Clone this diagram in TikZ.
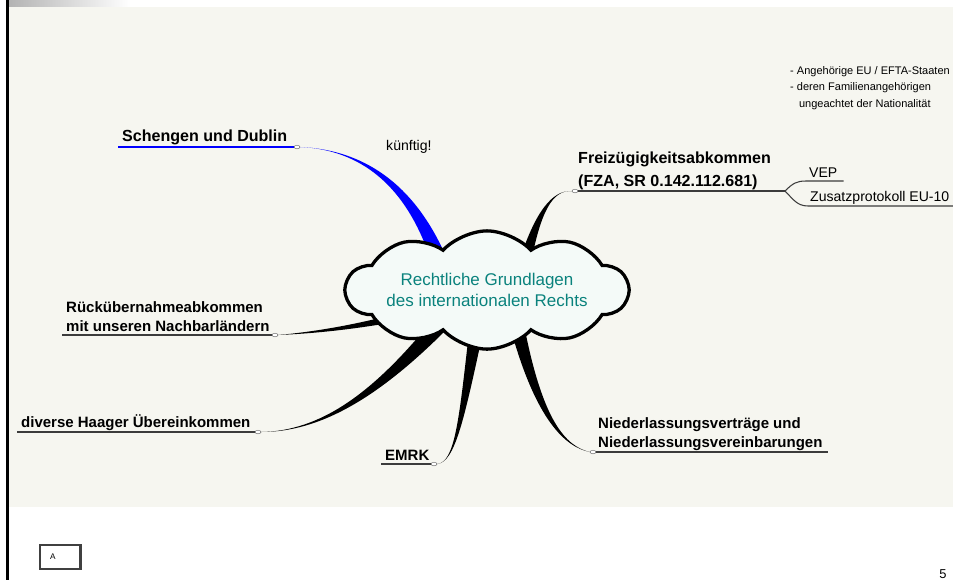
\documentclass[tikz,border=0pt]{standalone}
\usepackage{fontspec}
\setmainfont{Liberation Sans}
\usepackage{xcolor}
\usetikzlibrary{positioning,calc,shapes.symbols,shapes.geometric}

\definecolor{paper}{RGB}{246,246,240}
\definecolor{cloudfill}{RGB}{244,250,248}
\definecolor{coretext}{RGB}{10,130,125}
\definecolor{ulgray}{RGB}{60,60,60}

\begin{document}
\begin{tikzpicture}[
  x=0.03cm, y=-0.03cm,
  topic/.style={font=\bfseries\fontsize{13.7}{19.6}\selectfont, anchor=base west, inner sep=0pt, align=left},
  branch/.style={font=\bfseries\fontsize{12.8}{16.2}\selectfont, anchor=base west, inner sep=0pt, align=left},
  leaf/.style={font=\fontsize{12}{14}\selectfont, anchor=base west, inner sep=0pt},
  note/.style={font=\fontsize{9.4}{14}\selectfont, anchor=base west, inner sep=0pt, align=left},
  knob/.style={ellipse, draw=gray, fill=white, line width=0.5pt, inner sep=0pt, minimum width=5pt, minimum height=3pt},
  uline/.style={draw=ulgray, line width=0.9pt},
  core/.style={cloud, cloud puffs=10, cloud puff arc=95, aspect=3.4, draw, line width=2.8pt, fill=cloudfill,
    minimum width=7.5cm, minimum height=1.8cm, inner sep=0pt, text=coretext, font=\fontsize{14.5}{17.9}\selectfont, align=center}
]

% page
\useasboundingbox (0,0) rectangle (953,580);
\fill[white] (0,0) rectangle (953,580);
\shade[left color=black!30, right color=white] (8,0) rectangle (130,7);
\fill[paper] (8,7) rectangle (953,507);
\draw[line width=2.6pt] (7.5,0) -- (7.5,580);

% branch labels (multi-line ones sit on their last line)
\node[topic] (schengen) at (122,141) {Schengen und Dublin};
\node[leaf] (kuenftig) at (386,150) {künftig!};
\node[topic] (fza) at (578,186) {Freizügigkeitsabkommen\\(FZA, SR 0.142.112.681)};
\node[leaf] (vep) at (809,177) {VEP};
\node[leaf] (zusatz) at (810,201) {Zusatzprotokoll EU-10};
\node[note] (fzanote) at (790,107) {- Angehörige EU / EFTA-Staaten\\- deren Familienangehörigen\\\hspace*{7.5pt}ungeachtet der Nationalität};
\node[branch] (rueck) at (66,331) {Rückübernahmeabkommen\\mit unseren Nachbarländern};
\node[branch] (haager) at (21,427) {diverse Haager Übereinkommen};
\node[branch] (emrk) at (385,460) {EMRK};
\node[branch] (nieder) at (598,447) {Niederlassungsverträge und\\Niederlassungsvereinbarungen};

% knobs where the branches start
\node[knob] (sd) at (297,147) {};
\node[knob] (fz) at (575,191) {};
\node[knob] (rk) at (275,335) {};
\node[knob] (hg) at (258,432) {};
\node[knob] (em) at (434,464) {};
\node[knob] (nl) at (593,452) {};
\coordinate (fzsplit) at (785,191);

% ends inside the cloud
\coordinate (core-sd) at (436,252);
\coordinate (core-fz) at (525,262);
\coordinate (core-rk) at (386,320);
\coordinate (core-hg) at (440,324);
\coordinate (core-em) at (476,332);
\coordinate (core-nl) at (518,330);

% underlines
\draw[blue, line width=1.3pt] ($(schengen.base west)+(-4,6)$) -- (sd.west);
\draw[uline] (fz.east) -- (fzsplit);
\draw[uline] (fzsplit) .. controls (793,183) and (797,181) .. ($(vep.base west)+(-3,4)$) -- ($(vep.base east)+(6,4)$);
\draw[uline] (fzsplit) .. controls (793,199) and (797,206) .. ($(zusatz.base west)+(-2,5)$) -- (953,206);
\draw[uline] ($(rueck.base west)+(-4,4)$) -- (rk.west);
\draw[uline] ($(haager.base west)+(-4,5)$) -- (hg.west);
\draw[uline] ($(emrk.base west)+(-4,4)$) -- (em.west);
\draw[uline] (nl.east) -- ($(nieder.base east)+(5,5)$);

% tapered branches
\fill[blue] (sd.east) .. controls (345,149) and (405,167) .. ($(core-sd)+(8,0)$) -- ($(core-sd)+(-8,0)$) .. controls (398,170) and (345,149) .. (sd.east);
\fill (fz.west) .. controls (552,190) and (541,212) .. ($(core-fz)+(6,0)$) -- ($(core-fz)+(-6,0)$) .. controls (535,212) and (552,190) .. (fz.west);
\fill (rk.east) .. controls (300,333) and (335,329) .. ($(core-rk)+(0,-3.5)$) -- ($(core-rk)+(0,3.5)$) .. controls (335,332) and (300,334) .. (rk.east);
\fill (hg.east) .. controls (320,432) and (378,398) .. ($(core-hg)+(6,6)$) -- ($(core-hg)+(-6,-6)$) .. controls (373,394) and (320,431) .. (hg.east);
\fill (em.east) .. controls (455,462) and (464,420) .. ($(core-em)+(7,0)$) -- ($(core-em)+(-7,0)$) .. controls (459,420) and (455,462) .. (em.east);
\fill (nl.west) .. controls (565,446) and (543,420) .. ($(core-nl)+(7,0)$) -- ($(core-nl)+(-7,0)$) .. controls (536,420) and (565,447) .. (nl.west);

% centre
\node[core] (grundlagen) at (487,290) {Rechtliche Grundlagen\\des internationalen Rechts};

% footer
\node[draw=black!75, line width=1.8pt, fill=white, anchor=west, inner xsep=0.3cm, minimum height=0.72cm,
  font=\fontsize{7}{8}\selectfont] (abox) at (39,557) {A\hspace*{0.45cm}};
\node[font=\fontsize{11}{13}\selectfont] (pagenum) at (943,574) {5};

\end{tikzpicture}
\end{document}
